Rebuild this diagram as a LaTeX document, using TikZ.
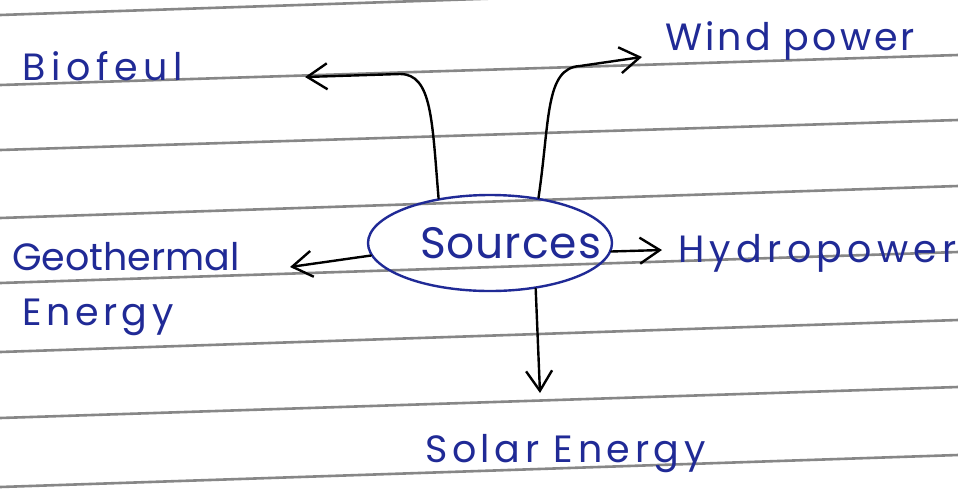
\documentclass[tikz,border=0pt]{standalone}
\usepackage{fontspec}
\setmainfont{Poppins}
\usetikzlibrary{arrows.meta,shapes.geometric}
\definecolor{ink}{RGB}{32,42,150}
\definecolor{rule}{RGB}{135,135,135}
\newcommand{\lsp}[1]{\addfontfeature{LetterSpace=#1}}
\tikzset{
  ruleline/.style={draw=rule,line width=2.6pt},
  hand/.style={text=ink,inner sep=0pt,anchor=base west,font=\fontsize{38}{44}\selectfont},
  arr/.style={draw=black,line width=2.4pt,line cap=round,line join=round,
    -{Straight Barb[length=20pt,width=26pt,line width=2.4pt]}},
}
\begin{document}
\begin{tikzpicture}[x=1pt,y=-1pt]
\useasboundingbox[fill=white] (0,0) rectangle (958,491);
% ruled paper lines
\foreach \l/\r in {15/-17,85/55,150/120,218/186,283/252,352/320,418/387,487/455}
  \draw[ruleline] (0,\l) -- (958,\r);
% central node
\node[ellipse,draw=ink,line width=2.4pt,minimum width=244pt,minimum height=96pt,inner sep=0pt] (src) at (490,243) {};
\node[hand,font=\fontsize{44}{50}\selectfont] (srct) at (420,258) {\lsp{2}Sources};
% labels
\node[hand] (bio) at (22,80) {\lsp{15}Biofeul};
\node[hand] (wind) at (665,50) {\lsp{8}Wind power};
\node[hand] (hydro) at (678,262) {\lsp{14}Hydropower};
\node[hand] (geo) at (12,270) {Geothermal};
\node[hand] (geo2) at (22,325) {\lsp{12}Energy};
\node[hand] (solar) at (425,462) {\lsp{12}Solar Energy};
% arrow ends
\coordinate (bioE) at (305,77);
\coordinate (windE) at (642,57);
\coordinate (geoE) at (290,267);
\coordinate (hydroE) at (662,250);
\coordinate (solarE) at (540,393);
% connectors
\draw[arr] (src.139) .. controls (432,120) and (432,74) .. (400,74) -- (bioE);
\draw[arr] (src.43) .. controls (550,120) and (545,68) .. (580,66) -- (windE);
\draw[arr] (src.186) -- (geoE);
\draw[arr] (src.-4) -- (hydroE);
\draw[arr] (src.-45) -- (solarE);
\end{tikzpicture}
\end{document}
